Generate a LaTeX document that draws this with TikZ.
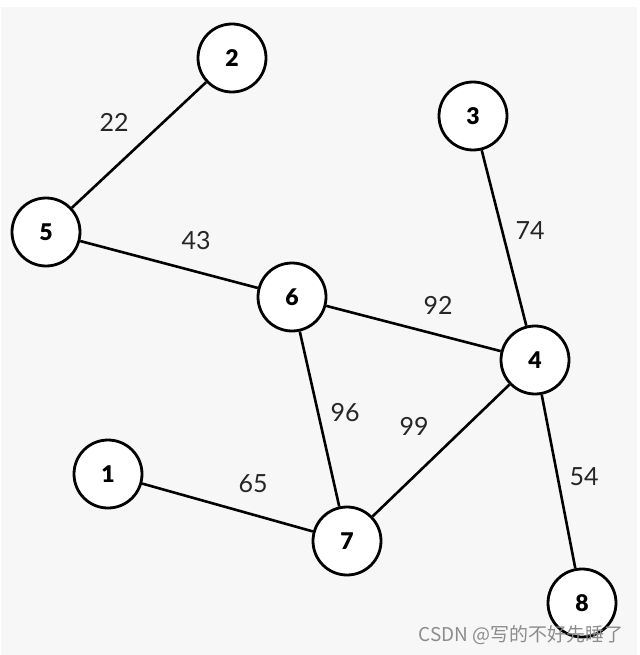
\documentclass[tikz,border=0pt]{standalone}
\usepackage{fontspec}
\setmainfont{Lato}
\newfontfamily\cjk{Noto Sans CJK SC}
\newfontfamily\heavy{Lato Black}
\begin{document}
\begin{tikzpicture}[x=1pt,y=-1pt,
  vertex/.style={circle,draw=black,line width=2.8pt,fill=white,minimum size=68pt,inner sep=0pt,font=\heavy\fontsize{23}{25}\selectfont},
  edge/.style={line width=2.6pt,black},
  wlabel/.style={font=\fontsize{25}{27}\selectfont,text=black!85}]
\useasboundingbox (0,0) rectangle (639,655);
\fill[white] (0,0) rectangle (639,655);
\fill[black!3] (1,7) rectangle (637,655);
\node[vertex] (n2) at (232,58) {2};
\node[vertex] (n3) at (473,116) {3};
\node[vertex] (n5) at (46,232) {5};
\node[vertex] (n6) at (292,297) {6};
\node[vertex] (n4) at (535,360) {4};
\node[vertex] (n1) at (108,474) {1};
\node[vertex] (n7) at (347,541) {7};
\node[vertex] (n8) at (582,603) {8};
\draw[edge] (n2) -- (n5);
\draw[edge] (n5) -- (n6);
\draw[edge] (n6) -- (n4);
\draw[edge] (n3) -- (n4);
\draw[edge] (n6) -- (n7);
\draw[edge] (n7) -- (n4);
\draw[edge] (n1) -- (n7);
\draw[edge] (n4) -- (n8);
\node[wlabel] (l22) at (114,122) {22};
\node[wlabel] (l43) at (196,241) {43};
\node[wlabel] (l74) at (530,231) {74};
\node[wlabel] (l92) at (438,305) {92};
\node[wlabel] (l96) at (345,413) {96};
\node[wlabel] (l99) at (414,426) {99};
\node[wlabel] (l65) at (253,484) {65};
\node[wlabel] (l54) at (584,477) {54};
\node[font=\cjk\fontsize{19}{21}\selectfont,text=black!45,anchor=east] (wm) at (627,635) {CSDN @写的不好先睡了};
\end{tikzpicture}
\end{document}
